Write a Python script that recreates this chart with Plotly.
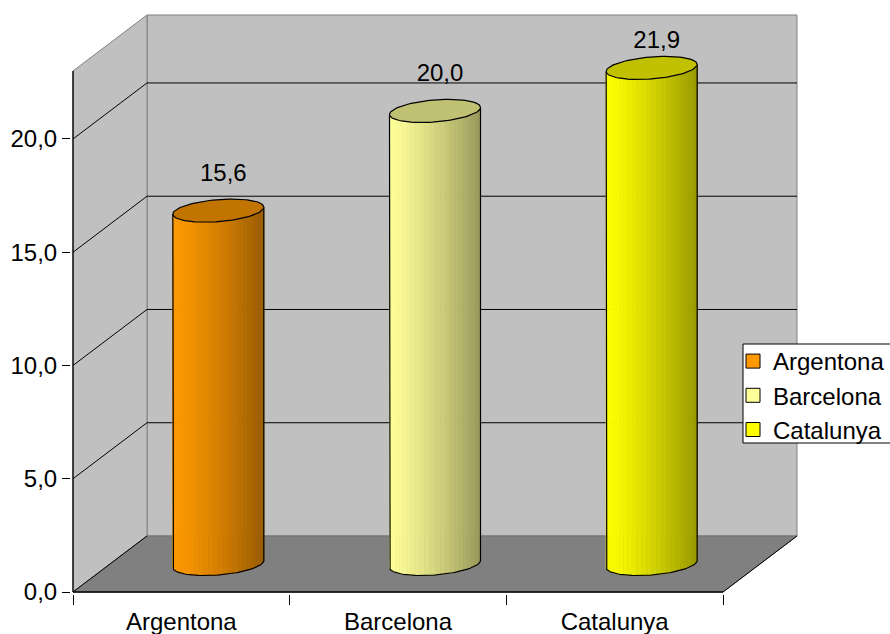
import numpy as np
import plotly.graph_objects as go

# ---------------- data ----------------
categories = ["Argentona", "Barcelona", "Catalunya"]
values = [15.6, 20.0, 21.9]
side_colors = ["#FF9900", "#FFFF99", "#FFFF00"]
y_ticks = [0, 5, 10, 15, 20]
y_axis_top = 23.0

# ---------------- geometry (axis units) ----------------
PXX = 216.67          # px per category
PXY = 22.65           # px per value unit
D = 74 / PXX          # depth offset in x
DY = 56 / PXY         # depth offset in y
A = 45.5 / PXX        # cylinder x radius
B = 11 / PXY          # cylinder ellipse y radius
K = 3.5 / PXY         # ellipse tilt
N_STRIPS = 28

x0 = -0.5 - 2 / PXX
x1 = 2.5 + D + 1 / PXX
y0 = -2 / PXY
y1 = y_axis_top + DY + 1 / PXY

PLOT_L, PLOT_W = 71, 727
PLOT_B, PLOT_H = 594, 580


def px_to_paper_x(px):
    return (px - PLOT_L) / PLOT_W


def px_to_paper_y(py):
    return (PLOT_B - py) / PLOT_H


def hex_to_rgb(h):
    h = h.lstrip("#")
    return [int(h[i:i + 2], 16) for i in (0, 2, 4)]


def shade(h, f):
    r, g, b = hex_to_rgb(h)
    return "rgb(%d,%d,%d)" % (min(255, r * f), min(255, g * f), min(255, b * f))


def ell(cx, cy, t):
    return cx + A * np.cos(t), cy + B * np.sin(t) + K * np.cos(t)


fig = go.Figure()

# ---------------- cylinders ----------------
for i, (cat, v, col) in enumerate(zip(categories, values, side_colors)):
    cx = i + D / 2
    cyb = DY / 2
    cyt = DY / 2 + v
    ts = np.linspace(np.pi, 2 * np.pi, N_STRIPS + 1)
    for j in range(N_STRIPS):
        tt = np.linspace(ts[j], ts[j + 1], 4)
        xb, yb = ell(cx, cyb, tt)
        xt, yt = ell(cx, cyt, tt[::-1])
        xs = list(xb) + list(xt) + [xb[0]]
        ys = list(yb) + list(yt) + [yb[0]]
        u = (np.cos((ts[j] + ts[j + 1]) / 2) + 1) / 2
        f = 1.0 - 0.40 * u ** 1.3
        c = shade(col, f)
        fig.add_trace(go.Scatter(x=xs, y=ys, mode="lines", fill="toself",
                                 fillcolor=c, line=dict(color=c, width=0.6),
                                 hoverinfo="skip", showlegend=False))
    # silhouette outline
    tt = np.linspace(np.pi, 2 * np.pi, 60)
    xb, yb = ell(cx, cyb, tt)
    xs = [cx - A] + list(xb) + [cx + A]
    ys = [cyt - K] + list(yb) + [cyt + K]
    fig.add_trace(go.Scatter(x=xs, y=ys, mode="lines",
                             line=dict(color="black", width=1.2),
                             hoverinfo="skip", showlegend=False))
    # top ellipse
    tt = np.linspace(0, 2 * np.pi, 90)
    xt, yt = ell(cx, cyt, tt)
    fig.add_trace(go.Scatter(x=list(xt), y=list(yt), mode="lines", fill="toself",
                             fillcolor=shade(col, 0.76),
                             line=dict(color="black", width=1.2),
                             hoverinfo="skip", showlegend=False))

# ---------------- data labels ----------------
lab_y = [min(v + DY / 2 + 36 / PXY, y_axis_top + DY - 27 / PXY) for v in values]
fig.add_trace(go.Scatter(
    x=[i + D / 2 + 5 / PXX for i in range(len(values))], y=lab_y,
    mode="text", text=[("%.1f" % v).replace(".", ",") for v in values],
    textposition="middle center",
    textfont=dict(size=24, color="black", family="Liberation Sans, Arial"),
    hoverinfo="skip", showlegend=False, cliponaxis=False))

# ---------------- legend entries ----------------
for cat, col in zip(categories, side_colors):
    fig.add_trace(go.Scatter(x=[None], y=[None], mode="markers", name=cat,
                             marker=dict(symbol="square", size=14, color=col,
                                         line=dict(color="black", width=1)),
                             xaxis="x2"))

# ---------------- walls / floor / grid ----------------
shapes = []
L, R = -0.5, 2.5
def path(pts):
    return "M " + " L ".join("%f,%f" % p for p in pts) + " Z"

# back wall
shapes.append(dict(type="path", path=path([(L + D, DY), (R + D, DY), (R + D, y_axis_top + DY), (L + D, y_axis_top + DY)]),
                   fillcolor="#C0C0C0", line=dict(color="#808080", width=1), layer="below"))
# side wall
shapes.append(dict(type="path", path=path([(L, 0), (L + D, DY), (L + D, y_axis_top + DY), (L, y_axis_top)]),
                   fillcolor="#C0C0C0", line=dict(color="#808080", width=1), layer="below"))
# floor
shapes.append(dict(type="path", path=path([(L, 0), (R, 0), (R + D, DY), (L + D, DY)]),
                   fillcolor="#808080", line=dict(color="#707070", width=1), layer="below"))
# gridlines
for v in y_ticks[1:]:
    shapes.append(dict(type="line", x0=L + D, x1=R + D, y0=v + DY, y1=v + DY,
                       line=dict(color="black", width=1), layer="below"))
    shapes.append(dict(type="line", x0=L, x1=L + D, y0=v, y1=v + DY,
                       line=dict(color="black", width=1), layer="below"))
# floor edges
shapes.append(dict(type="line", x0=L, x1=L + D, y0=0, y1=DY, line=dict(color="black", width=1), layer="below"))
shapes.append(dict(type="line", x0=R, x1=R + D, y0=0, y1=DY, line=dict(color="black", width=1), layer="below"))
# front axes
shapes.append(dict(type="line", x0=L, x1=L, y0=0, y1=y_axis_top, line=dict(color="black", width=1.3), layer="below"))
shapes.append(dict(type="line", x0=L, x1=R, y0=0, y1=0, line=dict(color="black", width=1.3), layer="below"))
# legend frame (cut off at the right edge, as in the original)
shapes.append(dict(type="rect", xref="paper", yref="paper",
                   x0=px_to_paper_x(743), x1=px_to_paper_x(895),
                   y0=px_to_paper_y(443), y1=px_to_paper_y(344),
                   fillcolor="white", line=dict(color="black", width=1), layer="above"))

font = dict(family="Liberation Sans, Arial", size=24, color="black")

fig.update_layout(
    width=890, height=634,
    margin=dict(l=PLOT_L, r=890 - PLOT_L - PLOT_W, t=PLOT_B - PLOT_H,
                b=634 - PLOT_B, autoexpand=False),
    paper_bgcolor="white", plot_bgcolor="white",
    separators=",.",
    font=font,
    shapes=shapes,
    xaxis=dict(range=[x0, x1], tickvals=[-0.5, 0.5, 1.5, 2.5], showticklabels=False,
               ticks="outside", ticklen=10, tickcolor="black", tickwidth=1,
               showgrid=False, zeroline=False, showline=False, fixedrange=True,
               automargin=False),
    xaxis2=dict(range=[x0, x1], overlaying="x", anchor="y", side="bottom",
                tickvals=list(range(len(categories))), ticktext=categories,
                ticks="", showgrid=False, zeroline=False, showline=False,
                tickfont=font, ticklabelstandoff=11, automargin=False),
    yaxis=dict(range=[y0, y1], tickvals=y_ticks, tickformat=".1f",
               ticks="outside", ticklen=8, tickcolor="black", tickwidth=1,
               showgrid=False, zeroline=False, showline=False, tickfont=font,
               automargin=False),
    showlegend=True,
    legend=dict(x=px_to_paper_x(733), xanchor="left", y=px_to_paper_y(339), yanchor="top",
                bgcolor="rgba(0,0,0,0)", borderwidth=0,
                font=font, tracegroupgap=0, itemwidth=30),
)

fig.write_html("out.html")
